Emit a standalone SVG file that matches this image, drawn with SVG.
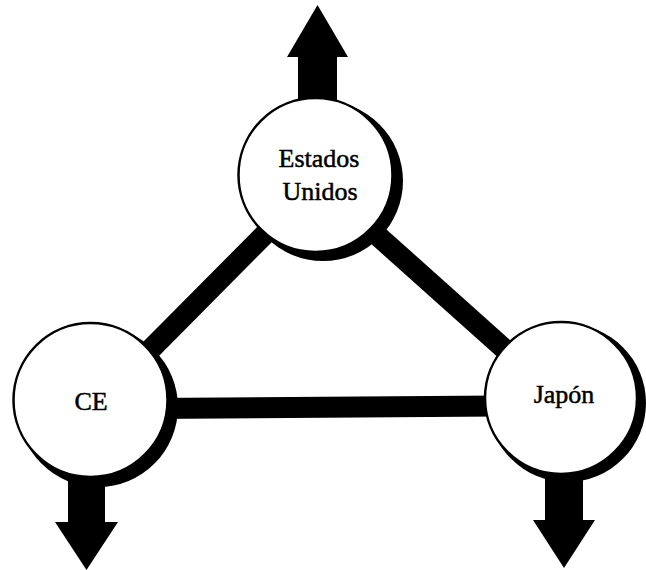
<svg xmlns="http://www.w3.org/2000/svg" width="646" height="570" viewBox="0 0 646 570">
  <style>
    .link { stroke: #000; stroke-width: 21; stroke-linecap: butt; fill: none; }
    .arrow { fill: #000; }
    .shadow { fill: #000; }
    .disc { fill: #fff; stroke: #000; stroke-width: 2.5; }
    .label { font-family: "Liberation Serif", "Times New Roman", serif; font-size: 26px; fill: #000; stroke: #000; stroke-width: 0.5; text-anchor: middle; }
  </style>
  <rect width="646" height="570" fill="#fff"/>
  <g id="connectors">
    <line class="link" x1="144" y1="356" x2="272" y2="227"/>
    <line class="link" x1="368" y1="227" x2="511" y2="355"/>
    <line class="link" x1="150" y1="408.5" x2="500" y2="406"/>
  </g>
  <g id="arrows">
    <polygon id="arrow-us" class="arrow" points="317.5,5 348,57 337,57 337,110 298,110 298,57 287,57"/>
    <polygon id="arrow-ce" class="arrow" points="86.5,570 118,522 105,522 105,470 68,470 68,522 55,522"/>
    <polygon id="arrow-jp" class="arrow" points="564,568 595,520 583,520 583,465 545,465 545,520 533,520"/>
  </g>
  <g id="node-us">
    <circle class="shadow" cx="323" cy="181" r="80"/>
    <circle class="disc" cx="315.5" cy="175" r="77"/>
    <text class="label" x="319" y="167">Estados</text>
    <text class="label" x="320" y="200">Unidos</text>
  </g>
  <g id="node-ce">
    <circle class="shadow" cx="98" cy="407" r="80"/>
    <circle class="disc" cx="90.5" cy="400" r="77"/>
    <text class="label" x="91" y="410">CE</text>
  </g>
  <g id="node-jp">
    <circle class="shadow" cx="567" cy="403" r="79"/>
    <circle class="disc" cx="561" cy="398" r="76"/>
    <text class="label" x="564" y="403">Japón</text>
  </g>
</svg>
